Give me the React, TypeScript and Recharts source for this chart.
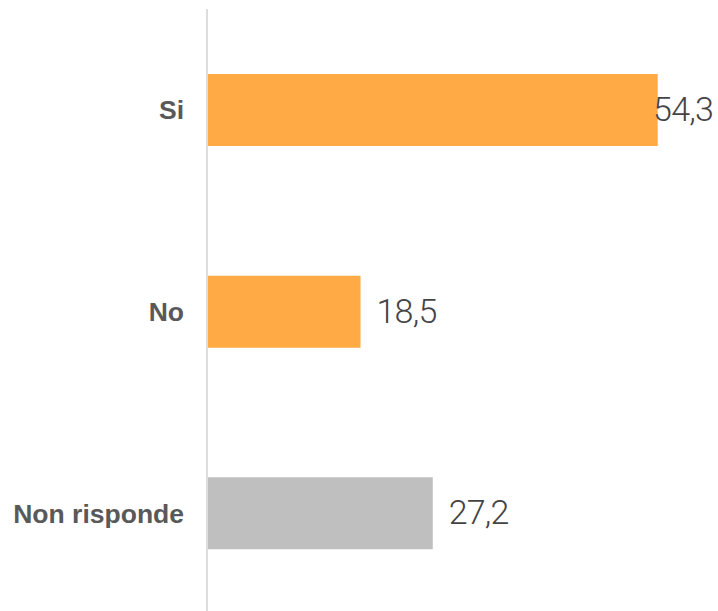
import { BarChart, Bar, XAxis, YAxis, Cell, LabelList } from "recharts";

const categories = ["Si", "No", "Non risponde"];
const values = [54.3, 18.5, 27.2];
const colors = ["#FFAA44", "#FFAA44", "#BFBFBF"];

const data = categories.map((name, i) => ({ name, value: values[i] }));

const W = 718;
const H = 614;

function ValueLabel(props: any) {
  const { x, y, width, height, value } = props;
  const text = String(value).replace(".", ",");
  const approxW = text.length * 17;
  let tx = x + width + 16;
  let anchor: "start" | "end" = "start";
  if (tx + approxW > W - 4) {
    tx = W - 5;
    anchor = "end";
  }
  return (
    <text
      x={tx}
      y={y + height / 2 + 11}
      textAnchor={anchor}
      fill="#444444"
      fontFamily="Roboto, sans-serif"
      fontWeight={300}
      fontSize={34}
      letterSpacing={-0.8}
    >
      {text}
    </text>
  );
}

export default function App() {
  return (
    <div style={{ position: "absolute", left: 0, top: 0, background: "#fff" }}>
      <BarChart
        width={W}
        height={H}
        data={data}
        layout="vertical"
        margin={{ top: 9, right: 13, bottom: 0, left: 0 }}
        barSize={72}
      >
        <XAxis type="number" domain={[0, 60]} hide />
        <YAxis
          type="category"
          dataKey="name"
          width={207}
          axisLine={{ stroke: "#DDDDDD", strokeWidth: 2 }}
          tickLine={false}
          tickSize={0}
          tickMargin={23}
          tick={{
            fill: "#595959",
            fontSize: 26.5,
            fontWeight: 700,
            fontFamily: "Liberation Sans, Arial, sans-serif",
          }}
        />
        <Bar dataKey="value" isAnimationActive={false}>
          {data.map((d, i) => (
            <Cell key={d.name} fill={colors[i]} />
          ))}
          <LabelList dataKey="value" content={<ValueLabel />} />
        </Bar>
      </BarChart>
    </div>
  );
}
